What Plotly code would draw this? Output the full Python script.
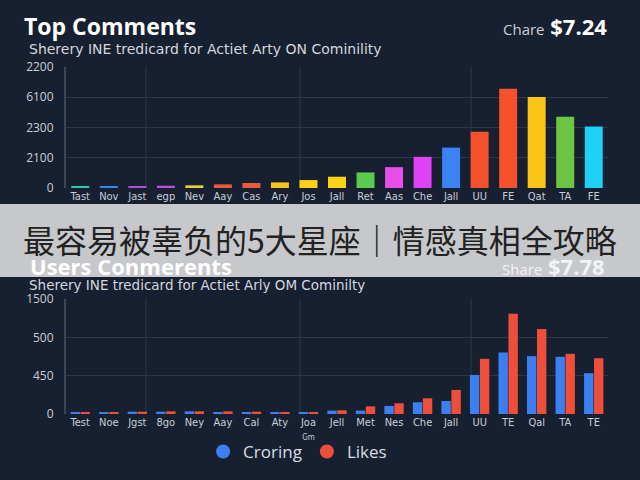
import plotly.graph_objects as go

# ---- data ----
top_labels = ["Tast", "Nov", "Jast", "egp", "Nev", "Aay", "Cas", "Ary", "Jos", "Jall",
              "Ret", "Aas", "Che", "Jall", "UU", "FE", "Qat", "TA", "FE"]
top_values = [110, 130, 110, 150, 175, 240, 330, 370, 525, 745,
              1030, 1380, 2060, 2670, 3720, 6570, 6020, 4710, 4070]
top_colors = ["#2ec4b6", "#3b82f6", "#b04fd8", "#c04fe0", "#e6d43a", "#ec5a3a", "#ec5a3a",
              "#f5c518", "#fcd116", "#fcd116", "#5cc94f", "#e94fe8", "#e043f5", "#3b82f6",
              "#f4512c", "#f4512c", "#fcc419", "#6cc644", "#1ed2f4"]
top_tickvals = [0, 2000, 4000, 6000, 8000]
top_ticktext = ["0", "2100", "2300", "6100", "2200"]

bot_labels = ["Test", "Noe", "Jgst", "8go", "Ney", "Aay", "Cal", "Aty", "Joa<br><span style='font-size:8px'>Gm</span>",
              "Jell", "Met", "Nes", "Che", "Jall", "UU", "TE", "Qal", "TA", "TE"]
croring = [26, 26, 30, 30, 35, 26, 26, 26, 22, 44, 44, 105, 153, 170, 510, 802, 754, 746, 532]
likes = [26, 26, 30, 35, 35, 35, 30, 26, 26, 48, 100, 140, 205, 314, 720, 1308, 1108, 785, 728]
bot_tickvals = [0, 500, 1000, 1500]
bot_ticktext = ["0", "450", "500", "1500"]

BG = "#172030"
GRID = "#2c3747"
TICK = "#c9ced6"
BLUE = "#3b7ff0"
RED = "#ef4f3a"

xs = list(range(len(top_labels)))

fig = go.Figure()
fig.add_trace(go.Bar(x=xs, y=top_values, marker=dict(color=top_colors, line=dict(width=0)),
                     xaxis="x", yaxis="y", showlegend=False, width=0.63))
fig.add_trace(go.Bar(x=xs, y=croring, marker=dict(color=BLUE, line=dict(width=0)), name="Croring",
                     xaxis="x2", yaxis="y2", showlegend=False, offsetgroup="a"))
fig.add_trace(go.Bar(x=xs, y=likes, marker=dict(color=RED, line=dict(width=0)), name="Likes",
                     xaxis="x2", yaxis="y2", showlegend=False, offsetgroup="b"))
# legend entries with circle markers
fig.add_trace(go.Scatter(x=[None], y=[None], mode="markers", name="Croring",
                         marker=dict(color=BLUE, size=14, symbol="circle"), xaxis="x2", yaxis="y2"))
fig.add_trace(go.Scatter(x=[None], y=[None], mode="markers", name="Likes",
                         marker=dict(color=RED, size=14, symbol="circle"), xaxis="x2", yaxis="y2"))

xdom = [66 / 640, 608 / 640]
axis_common = dict(showgrid=False, zeroline=False, showline=False, ticks="", automargin=False,
                   tickfont=dict(family="DejaVu Sans Condensed, Liberation Sans Narrow", size=11, color=TICK),
                   range=[-0.5, len(xs) - 0.5], tickmode="array", tickvals=xs, fixedrange=True)

fig.update_layout(
    width=640, height=480,
    margin=dict(l=0, r=0, t=0, b=0, pad=0, autoexpand=False),
    paper_bgcolor=BG, plot_bgcolor=BG,
    barmode="group", bargap=0.3, bargroupgap=0.06,
    font=dict(family="Open Sans, DejaVu Sans", color=TICK),
    xaxis=dict(domain=xdom, anchor="y", ticktext=top_labels, **axis_common),
    yaxis=dict(domain=[1 - 188 / 480, 1 - 67 / 480], anchor="x", range=[0, 8000],
               tickvals=top_tickvals, ticktext=top_ticktext, showgrid=True, gridcolor=GRID,
               gridwidth=1, zeroline=False, showline=True, linecolor="#3a4658", linewidth=2,
               ticks="", ticklabelstandoff=8, automargin=False, tickfont=dict(size=12, color=TICK)),
    xaxis2=dict(domain=xdom, anchor="y2", ticktext=bot_labels, **axis_common),
    yaxis2=dict(domain=[1 - 414 / 480, 1 - 299 / 480], anchor="x2", range=[0, 1500],
                tickvals=bot_tickvals, ticktext=bot_ticktext, showgrid=True, gridcolor=GRID,
                gridwidth=1, zeroline=False, showline=True, linecolor="#3a4658", linewidth=2,
                ticks="", ticklabelstandoff=8, automargin=False, tickfont=dict(size=12, color=TICK)),
    legend=dict(orientation="h", x=0.465, xanchor="center", y=1 - 452 / 480, yanchor="middle",
                font=dict(size=17, color="#d8dce4"), bgcolor="rgba(0,0,0,0)",
                itemwidth=30, tracegroupgap=0),
    showlegend=True,
)

shapes = []
# vertical grid lines
for xa, ya in [("x", "y"), ("x2", "y2")]:
    for xv in [2.3, 7.7, 13.7]:
        shapes.append(dict(type="line", xref=xa, yref=ya + " domain", x0=xv, x1=xv, y0=0, y1=1,
                           line=dict(color=GRID, width=1), layer="below"))
# banner
shapes.append(dict(type="rect", xref="paper", yref="paper", x0=0, x1=1,
                   y0=1 - 277 / 480, y1=1 - 204 / 480, fillcolor="#c6c8cb",
                   line=dict(width=0), layer="above"))
fig.update_layout(shapes=shapes)

ann = [
    dict(text="<b>Top Comments</b>", x=22 / 640, y=1 - 26 / 480, xanchor="left", yanchor="middle",
         font=dict(size=23, color="#ffffff", family="Open Sans, DejaVu Sans")),
    dict(text="<span style='font-size:15px;color:#c9ced6'>Chare</span> <b>$7.24</b>", x=609 / 640,
         y=1 - 26 / 480, xanchor="right", yanchor="middle",
         font=dict(size=22, color="#ffffff", family="Open Sans, DejaVu Sans")),
    dict(text="Sherery INE tredicard for Actiet Arty ON Cominility", x=27 / 640, y=1 - 49 / 480,
         xanchor="left", yanchor="middle", font=dict(size=14, color="#d3d7de", family="DejaVu Sans")),
    dict(text="<b>Users Conmerents</b>", x=28 / 640, y=1 - 266 / 480, xanchor="left", yanchor="middle",
         font=dict(size=22, color="#ffffff", family="Open Sans, DejaVu Sans")),
    dict(text="<span style='font-size:15px'>Share</span> <b>$7.78</b>", x=607 / 640,
         y=1 - 266 / 480, xanchor="right", yanchor="middle",
         font=dict(size=22, color="#f2f3f5", family="Open Sans, DejaVu Sans")),
    dict(text="最容易被辜负的5大星座｜情感真相全攻略", x=0.5, y=1 - 239 / 480, xanchor="center",
         yanchor="middle", font=dict(size=32, color="#222222", family="Noto Sans CJK SC")),
    dict(text="Sherery INE tredicard for Actiet Arly OM Cominilty", x=27 / 640, y=1 - 285 / 480,
         xanchor="left", yanchor="middle", font=dict(size=13.5, color="#d3d7de", family="DejaVu Sans")),
]
for a in ann:
    a.update(xref="paper", yref="paper", showarrow=False)
fig.update_layout(annotations=ann)

fig.write_html("out.html", config={"displayModeBar": False},
               post_script="document.body.style.margin='0';document.body.style.background='#172030';")
